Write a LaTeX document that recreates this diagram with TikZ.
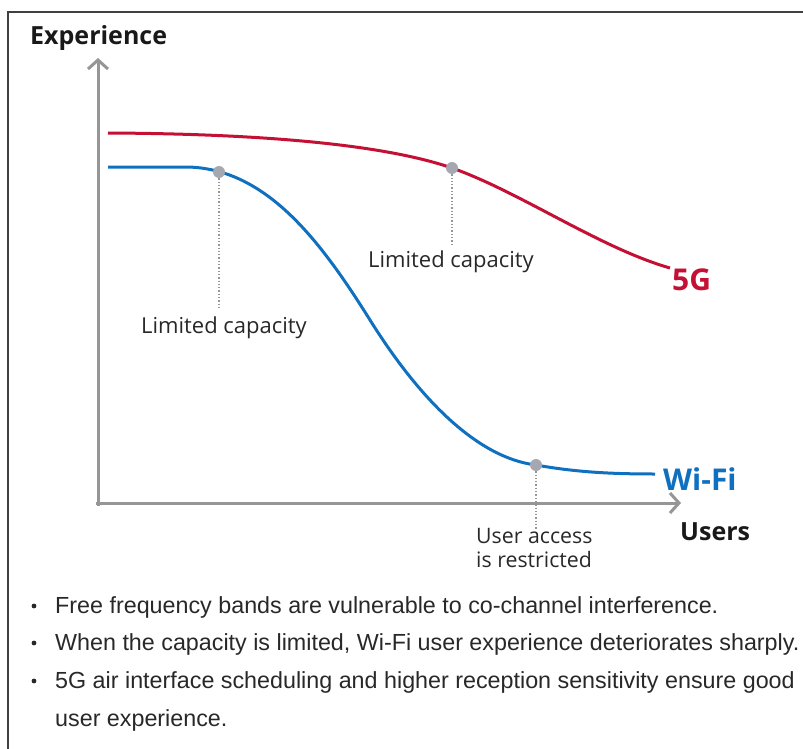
\documentclass[tikz,border=0pt]{standalone}
\usepackage{fontspec}
\usetikzlibrary{arrows.meta}
\setmainfont{Liberation Sans}
\newfontfamily\labfont{Open Sans}
\newfontfamily\notefont{Liberation Sans}
\definecolor{fivegred}{RGB}{196,16,52}
\definecolor{wifiblue}{RGB}{16,112,192}
\definecolor{axisgray}{RGB}{150,150,150}
\definecolor{dotgray}{RGB}{165,168,176}
\definecolor{textdark}{RGB}{40,40,40}
\tikzset{
  axisline/.style={draw=axisgray, line width=3pt, -{Straight Barb[length=9pt,width=20pt,line width=3pt]}},
  fiveg/.style={draw=fivegred, line width=3pt},
  wifi/.style={draw=wifiblue, line width=3pt},
  marker/.style={circle, fill=dotgray, inner sep=0pt, minimum size=12pt},
  dropline/.style={draw=axisgray, line width=1.3pt, dotted},
  caption/.style={font=\labfont\fontsize{22}{27}\selectfont, text=textdark, inner sep=0pt},
  axislabel/.style={font=\labfont\bfseries\fontsize{25}{30}\selectfont, text=black!90, inner sep=0pt},
  curvelabel/.style={font=\labfont\bfseries\fontsize{30}{34}\selectfont, inner sep=0pt},
  note/.style={font=\notefont\fontsize{23.3}{28}\selectfont, text=textdark, inner sep=0pt, anchor=base west},
}
\begin{document}
\begin{tikzpicture}[x=1pt,y=-1pt]
\useasboundingbox (0,0) rectangle (803,749);
% frame
\draw[line width=2pt, draw=black!75] (8,749) -- (8,12) -- (803,12);

% axes
\coordinate (origin) at (98,503);
\coordinate (ytip) at (98,58);
\coordinate (xtip) at (681,503);
\draw[axisline] (98,506) -- (ytip);
\draw[axisline] (96,503) -- (xtip);
\node[axislabel, anchor=base west] (ylab) at (30,45) {Experience};
\node[axislabel, anchor=base west] (xlab) at (680,540) {Users};

% 5G curve
\draw[fiveg] (108,133) .. controls (300,134) and (400,150) .. (452,168)
  .. controls (520,192) and (600,248) .. (670,268);
\node[curvelabel, text=fivegred, anchor=base west] (g5) at (672,290) {5G};

% Wi-Fi curve
\draw[wifi] (108,167) -- (185,167) .. controls (265,167) and (320,240) .. (370,320)
  .. controls (420,400) and (478,458) .. (536,465)
  .. controls (575,472) and (610,474) .. (655,474);
\node[curvelabel, text=wifiblue, anchor=base west] (wf) at (663,490) {Wi-Fi};

% marker dots
\node[marker] (m1) at (219,172) {};
\node[marker] (m2) at (452,168) {};
\node[marker] (m3) at (536,465) {};

% captions
\node[caption, anchor=base] (c1) at (224,333) {Limited capacity};
\node[caption, anchor=base] (c2) at (451,267) {Limited capacity};
\node[caption, anchor=north west, align=left, font=\labfont\fontsize{21.3}{24.5}\selectfont] (c3) at (476,528) {User access\\is restricted};

% drop lines
\draw[dropline] (m1) -- (219,308);
\draw[dropline] (m2) -- (452,246);
\draw[dropline] (m3) -- (536,530);

% notes
\foreach \y/\t in {613/{Free frequency bands are vulnerable to co-channel interference.},
                   650/{When the capacity is limited, Wi-Fi user experience deteriorates sharply.},
                   688/{5G air interface scheduling and higher reception sensitivity ensure good}} {
  \node[note] at (55,\y) {\t};
  \fill[textdark] (34,\y-7) circle (2.4pt);
}
\node[note] (last) at (55,726) {user experience.};
\end{tikzpicture}
\end{document}
